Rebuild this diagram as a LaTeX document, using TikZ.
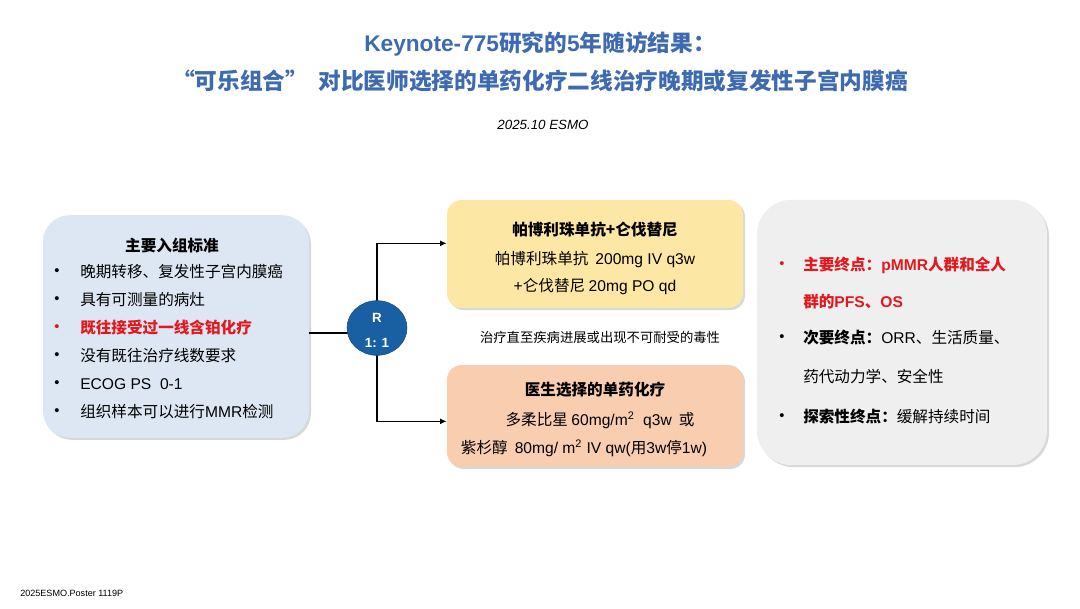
\documentclass[tikz,border=0pt]{standalone}
\usepackage{fontspec}
\setmainfont{Noto Sans CJK SC}
\newfontfamily\lat{Liberation Sans}
\usetikzlibrary{positioning,arrows.meta,shadows,shapes.geometric}
\definecolor{titleblue}{RGB}{62,106,176}
\definecolor{mainred}{RGB}{226,24,30}
\definecolor{inclblue}{RGB}{221,231,243}
\definecolor{armyellow}{RGB}{252,231,164}
\definecolor{armpeach}{RGB}{249,205,176}
\definecolor{endgray}{RGB}{239,239,239}
\definecolor{randblue}{RGB}{24,96,162}

\begin{document}
\begin{tikzpicture}[x=0.75pt,y=-0.75pt,
  box/.style={rounded corners=14pt,inner sep=0pt,drop shadow={shadow xshift=1.5pt,shadow yshift=-1.5pt,opacity=0.3}},
  txt/.style={anchor=west,inner sep=0pt,font=\fontsize{11.7}{14}\selectfont},
  ctr/.style={inner sep=0pt,font=\fontsize{11.7}{14}\selectfont},
  bul/.style={inner sep=0pt,font=\fontsize{11}{12}\lat}]
\useasboundingbox[fill=white] (0,0) rectangle (1080,608);

% title
\node[ctr,font=\fontsize{17}{20}\bfseries,text=titleblue] (t1) at (540,44) {{\lat Keynote-775}研究的{\lat 5}年随访结果：};
\node[ctr,font=\fontsize{17}{20}\bfseries,text=titleblue] (t2) at (540,81) {“可乐组合”\ \ 对比医师选择的单药化疗二线治疗晚期或复发性子宫内膜癌};
\node[ctr,font=\fontsize{10}{12}\lat\itshape] (date) at (543,125) {2025.10 ESMO};

% boxes
\node[box,fill=inclblue,rounded corners=20pt,minimum width=199.5pt,minimum height=167pt] (incl) at (176,326.5) {};
\node[box,fill=armyellow,rounded corners=11pt,minimum width=222pt,minimum height=81pt] (armA) at (595,254) {};
\node[box,fill=armpeach,rounded corners=11pt,minimum width=222pt,minimum height=76.5pt] (armB) at (595,416) {};
\node[box,fill=endgray,rounded corners=26pt,minimum width=217.5pt,minimum height=199pt] (endp) at (902,332.5) {};

% randomisation
\draw[line width=1pt] (incl.east |- 0,333) -- (377,333);
\draw[line width=1pt,-{Latex[length=5pt,width=4.5pt]}] (377,328) |- ([yshift=8pt]armA.west);
\draw[line width=1pt,-{Latex[length=5pt,width=4.5pt]}] (377,328) |- ([yshift=-4pt]armB.west);
\node[ellipse,fill=randblue,draw=randblue!80!black,minimum width=45pt,minimum height=41pt,inner sep=0pt] (rand) at (377,328) {};
\node[ctr,font=\fontsize{10}{12}\lat\bfseries,text=white] (rR) at (377,318) {R};
\node[ctr,font=\fontsize{10}{12}\lat\bfseries,text=white] (rN) at (377,343) {1: 1};

% inclusion criteria
\node[ctr,font=\fontsize{11.7}{14}\bfseries] (inclT) at (172,246) {主要入组标准};
\node[bul] at (57,272) {•}; \node[txt] (i1) at (80,272) {晚期转移、复发性子宫内膜癌};
\node[bul] at (57,300) {•}; \node[txt] (i2) at (80,300) {具有可测量的病灶};
\node[bul,text=mainred] at (57,328) {•}; \node[txt,text=mainred,font=\fontsize{11.7}{14}\bfseries] (i3) at (80,328) {既往接受过一线含铂化疗};
\node[bul] at (57,356) {•}; \node[txt] (i4) at (80,356) {没有既往治疗线数要求};
\node[bul] at (57,384) {•}; \node[txt,font=\fontsize{11.7}{14}\lat] (i5) at (80,384) {ECOG PS\ \ 0-1};
\node[bul] at (57,412) {•}; \node[txt] (i6) at (80,412) {组织样本可以进行{\lat MMR}检测};

% arms
\node[ctr,font=\fontsize{11.7}{14}\bfseries] (aT) at (595,230) {帕博利珠单抗+仑伐替尼};
\node[ctr] (a1) at (595,259) {帕博利珠单抗\ \ {\lat 200mg IV q3w}};
\node[ctr] (a2) at (595,287) {{\lat +}仑伐替尼 {\lat 20mg PO qd}};
\node[ctr,font=\fontsize{10}{12}\selectfont] (mid) at (600,337) {治疗直至疾病进展或出现不可耐受的毒性};
\node[ctr,font=\fontsize{11.7}{14}\bfseries] (bT) at (595,390) {医生选择的单药化疗};
\node[ctr] (b1) at (600,420) {多柔比星 {\lat 60mg/m\textsuperscript{2}\ \ q3w}\ \ 或};
\node[ctr] (b2) at (584,448) {紫杉醇\ \ {\lat 80mg/ m\textsuperscript{2} IV qw(}用{\lat 3w}停{\lat 1w)}};

% endpoints
\node[bul,text=mainred] at (782,265) {•}; \node[txt,text=mainred,font=\fontsize{11.7}{14}\bfseries] (e1) at (803,265) {主要终点：{\lat pMMR}人群和全人};
\node[txt,text=mainred,font=\fontsize{11.7}{14}\bfseries] (e2) at (803,302) {群的{\lat PFS}、{\lat OS}};
\node[bul] at (782,338) {•}; \node[txt] (e3) at (803,338) {\textbf{次要终点：}{\lat ORR}、生活质量、};
\node[txt] (e4) at (803,377) {药代动力学、安全性};
\node[bul] at (782,417) {•}; \node[txt] (e5) at (803,417) {\textbf{探索性终点：}缓解持续时间};

% source
\node[anchor=west,inner sep=0pt,font=\fontsize{6.8}{8}\lat] (src) at (20,593) {2025ESMO.Poster 1119P};
\end{tikzpicture}
\end{document}
